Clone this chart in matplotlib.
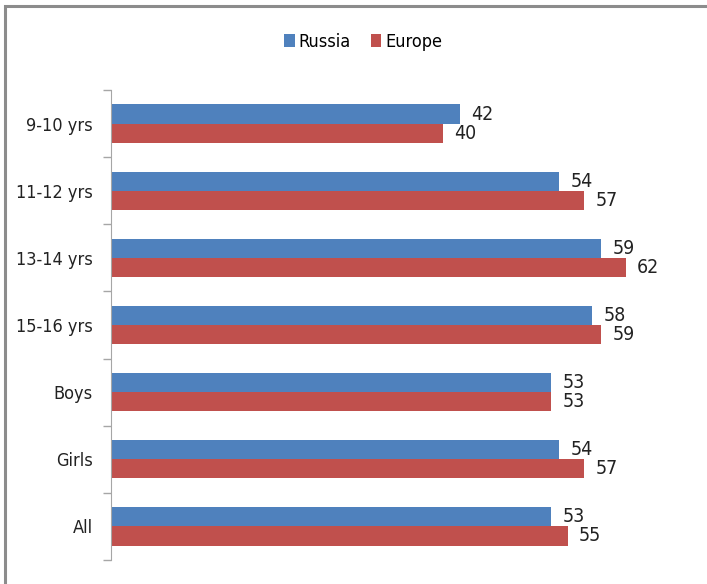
import numpy as np
import matplotlib.pyplot as plt
from matplotlib.patches import Rectangle

categories = ['9-10 yrs', '11-12 yrs', '13-14 yrs', '15-16 yrs', 'Boys', 'Girls', 'All']
russia = [42, 54, 59, 58, 53, 54, 53]
europe = [40, 57, 62, 59, 53, 57, 55]

plt.rcParams['font.family'] = ['DejaVu Sans']
plt.rcParams['font.stretch'] = 'condensed'

fig = plt.figure(figsize=(7.07, 5.84), dpi=100)
ax = fig.add_axes([111 / 707, 24 / 584, 581 / 707, 470 / 584])

# outer chart frame (cut off at right and bottom)
fig.patches.append(Rectangle((5 / 707, -0.1), 1.2, 1.1 - 6 / 584, transform=fig.transFigure,
                             fill=False, edgecolor='#8c8c8c', linewidth=2.2))

y = np.arange(len(categories))
h = 0.285
b1 = ax.barh(y - h / 2, russia, height=h, color='#4F81BD', label='Russia')
b2 = ax.barh(y + h / 2, europe, height=h, color='#C0504D', label='Europe')

for bars, vals in ((b1, russia), (b2, europe)):
    for bar, v in zip(bars, vals):
        ax.text(v + 1.4, bar.get_y() + bar.get_height() / 2, str(v),
                va='center', ha='left', fontsize=14, color='#222222')

ax.set_xlim(0, 70)
ax.set_ylim(len(categories) - 0.5, -0.5)
ax.set_yticks(y)
ax.set_yticklabels(categories, fontsize=13, color='#222222')
ax.set_yticks(np.arange(-0.5, len(categories)), minor=True)
ax.tick_params(axis='y', which='major', length=0, pad=13)
ax.tick_params(axis='y', which='minor', length=6, color='#a6a6a6', width=1)
ax.set_xticks([])
for s in ('top', 'right', 'bottom'):
    ax.spines[s].set_visible(False)
ax.spines['left'].set_color('#a6a6a6')

fig.legend(handles=[b1, b2], loc='center', bbox_to_anchor=(363 / 707, 1 - 42 / 584),
           ncol=2, frameon=False, fontsize=13, handlelength=0.6, handleheight=0.7,
           handletextpad=0.2, columnspacing=1.1)

fig.savefig('out.png', dpi=100)
